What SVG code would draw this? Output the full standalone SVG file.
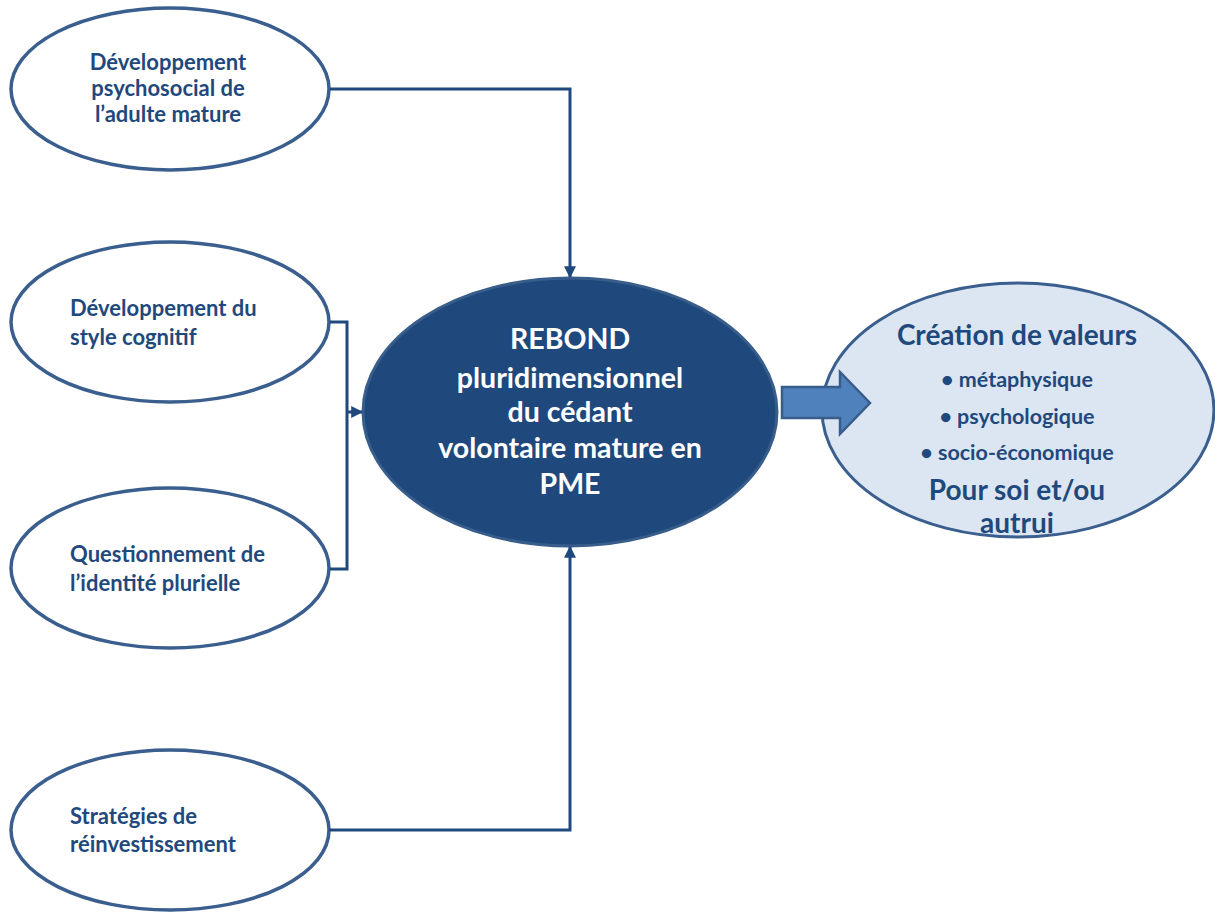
<svg xmlns="http://www.w3.org/2000/svg" width="1215" height="913" viewBox="0 0 1215 913">
<style>
.src{fill:#ffffff;stroke:#3A5E8E;stroke-width:3.5}
.lt{font-family:Lato,"Liberation Sans",sans-serif;font-weight:bold;font-size:22px;fill:#1F497D}
.ct{font-family:Lato,"Liberation Sans",sans-serif;font-weight:bold;font-size:28.5px;fill:#ffffff;text-anchor:middle}
.rt{font-family:Lato,"Liberation Sans",sans-serif;font-weight:bold;fill:#1F497D;text-anchor:middle}
.con{fill:none;stroke:#1F497D;stroke-width:3}
</style>
<defs>
<marker id="ah" viewBox="0 0 10 10" refX="9" refY="5" markerWidth="4" markerHeight="4" orient="auto" markerUnits="strokeWidth">
<path d="M0,0 L10,5 L0,10 z" fill="#1F497D"/>
</marker>
<clipPath id="rclip"><ellipse cx="1018" cy="410" rx="196" ry="127"/></clipPath>
</defs>
<rect width="1215" height="913" fill="#ffffff"/>
<g id="n1">
<ellipse class="src" cx="170" cy="89" rx="159" ry="81"/>
<text class="lt" text-anchor="middle"><tspan x="168" y="70">Développement</tspan><tspan x="168" y="96">psychosocial de</tspan><tspan x="168" y="122">l’adulte mature</tspan></text>
</g>
<g id="n2">
<ellipse class="src" cx="170" cy="322" rx="159" ry="80"/>
<text class="lt"><tspan x="70" y="316">Développement du</tspan><tspan x="70" y="345">style cognitif</tspan></text>
</g>
<g id="n3">
<ellipse class="src" cx="170" cy="568" rx="159" ry="80"/>
<text class="lt"><tspan x="70" y="562">Questionnement de</tspan><tspan x="70" y="591">l’identité plurielle</tspan></text>
</g>
<g id="n4">
<ellipse class="src" cx="170" cy="830" rx="159" ry="80"/>
<text class="lt"><tspan x="70" y="824">Stratégies de</tspan><tspan x="70" y="852">réinvestissement</tspan></text>
</g>
<g id="center">
<ellipse cx="570" cy="412" rx="207" ry="134" fill="#1F497D" stroke="#385D8A" stroke-width="3"/>
<text class="ct"><tspan x="570" y="349">REBOND</tspan><tspan x="570" y="388">pluridimensionnel</tspan><tspan x="570" y="422">du cédant</tspan><tspan x="570" y="458">volontaire mature en</tspan><tspan x="570" y="494">PME</tspan></text>
</g>
<g id="result">
<ellipse cx="1018" cy="410" rx="196" ry="127" fill="#DCE6F2"/>
<g clip-path="url(#rclip)">
<text class="rt" font-size="28"><tspan x="1017" y="345">Création de valeurs</tspan></text>
<text class="rt" font-size="21.5"><tspan x="1017" y="387">• métaphysique</tspan><tspan x="1017" y="424">• psychologique</tspan><tspan x="1017" y="460">• socio-économique</tspan></text>
<text class="rt" font-size="28"><tspan x="1017" y="500">Pour soi et/ou</tspan><tspan x="1017" y="533">autrui</tspan></text>
</g>
<ellipse cx="1018" cy="410" rx="196" ry="127" fill="none" stroke="#3A5E8E" stroke-width="3"/>
</g>
<g id="connectors">
<path class="con" d="M330,89 H570 V277" marker-end="url(#ah)"/>
<path class="con" d="M330,322 H347 V569 H330"/>
<path class="con" d="M347,412 H362" marker-end="url(#ah)"/>
<path class="con" d="M329,830 H570 V547" marker-end="url(#ah)"/>
<path d="M782,387 H840 V372 L870,403 L840,434 V418 H782 Z" fill="#4F81BD" stroke="#385D8A" stroke-width="2.5"/>
</g>
</svg>
